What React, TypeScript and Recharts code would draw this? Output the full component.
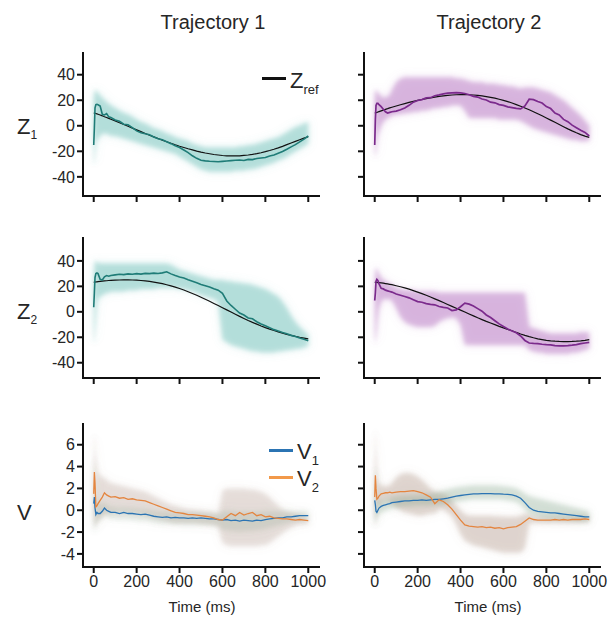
import React from "react";
import { ComposedChart, Line, Area, XAxis, YAxis } from "recharts";

// shared time base (ms); denser at the start where the traces jump
const time = [
  0, 3, 6, 10, 15, 20, 30, 40, 50, 60, 70, 80,
  100, 120, 140, 160, 180, 200, 220, 240, 260, 280,
  300, 320, 340, 360, 380, 400, 420, 440, 460, 480,
  500, 520, 540, 560, 580, 600, 620, 640, 660, 680,
  700, 720, 740, 760, 780, 800, 820, 840, 860, 880,
  900, 920, 940, 960, 980, 1000,
];
const timeTicks = [0, 200, 400, 600, 800, 1000];
const zTicks = [-40, -20, 0, 20, 40];
const vTicks = [-4, -2, 0, 2, 4, 6];

// ---- Trajectory 1, Z1
const refT1Z1 = [
  10, 9.9, 9.8, 9.6, 9.3, 9.0, 8.4, 7.8, 7.1, 6.5, 5.8, 5.1,
  3.8, 2.4, 1.0, -0.4, -1.8, -3.2, -4.6, -6.0, -7.4, -8.7,
  -10.0, -11.3, -12.5, -13.7, -14.9, -16.0, -17.0, -18.0, -18.9, -19.8,
  -20.6, -21.3, -21.9, -22.5, -22.9, -23.3, -23.5, -23.6, -23.6, -23.5,
  -23.2, -22.9, -22.4, -21.8, -21.1, -20.3, -19.4, -18.4, -17.3, -16.1,
  -14.8, -13.5, -12.2, -10.9, -9.7, -8.6,
];
const meanT1Z1 = [
  -15, -2, 14, 16.5, 16.8, 16.5, 15.5, 9, 8.5, 9.5, 7, 6.5,
  4.6, 3.5, 1.2, 0.8, -1.5, -4.0, -5.5, -6.3, -7.0, -8.8,
  -10.2, -11.0, -12.5, -14.0, -15.6, -17.0, -19.0, -21.0, -23.5, -25.5,
  -27.0, -27.5, -27.8, -28.0, -28.2, -27.9, -27.6, -27.3, -27.0, -26.8,
  -27.2, -26.3, -26.5, -25.6, -25.2, -24.8, -23.6, -22.9, -21.5, -20.2,
  -18.4, -16.5, -14.8, -12.6, -10.4, -8.0,
];
const hiT1Z1 = [
  22, 26, 28, 28, 27, 26, 24, 22, 20, 19, 17, 16,
  14, 12, 10, 9, 7, 5, 3, 2, 0, -2,
  -3, -4, -6, -7, -9, -10, -11, -12, -14, -15,
  -16, -17, -17, -17, -17, -17, -17, -17, -17, -16,
  -16, -15, -15, -14, -13, -12, -11, -10, -9, -7,
  -5, -3, -1, 0, 2, 3,
];
const loT1Z1 = [
  -28, -30, -24, -15, -12, -10, -8, -6, -6, -6, -7, -8,
  -8, -9, -10, -11, -12, -13, -14, -15, -16, -17,
  -18, -19, -20, -21, -22, -24, -26, -28, -30, -32,
  -34, -35, -36, -36, -36, -36, -36, -36, -35, -35,
  -35, -34, -34, -33, -32, -31, -30, -29, -27, -26,
  -24, -22, -20, -18, -16, -14,
];

// ---- Trajectory 2, Z1
const refT2Z1 = [
  10, 10.1, 10.3, 10.5, 10.8, 11.1, 11.7, 12.3, 12.9, 13.4, 14.0, 14.5,
  15.5, 16.5, 17.4, 18.3, 19.1, 19.9, 20.6, 21.3, 21.9, 22.5,
  23.0, 23.4, 23.8, 24.1, 24.3, 24.4, 24.4, 24.3, 24.1, 23.8,
  23.4, 22.9, 22.3, 21.6, 20.8, 19.9, 18.9, 17.8, 16.6, 15.3,
  13.9, 12.5, 11.0, 9.4, 7.8, 6.1, 4.4, 2.7, 1.0, -0.7,
  -2.4, -4.0, -5.5, -6.9, -8.1, -9.1,
];
const meanT2Z1 = [
  -15, 5, 16, 17.5, 17.5, 16.5, 15, 13, 11, 10, 10.5, 11,
  11.5, 12.5, 14, 16, 18.5, 19.8, 20.5, 21.8, 22.0, 23.5,
  24.2, 25.0, 25.5, 25.8, 26.0, 25.7, 25.3, 24.3, 23.0, 22.5,
  21.0, 20.2, 18.5, 18.0, 16.6, 16.0, 14.8, 14.2, 13.6, 13.2,
  15.5, 20.8, 20.5, 19.0, 17.8, 15.0, 13.5, 10.0, 8.5, 5.0,
  3.2, 0.5, -1.5, -3.5, -5.2, -8.0,
];
const hiT2Z1 = [
  24, 28, 28, 27, 26, 25, 23, 22, 22, 23, 24, 28,
  34, 37, 38, 38, 38, 38, 38, 38, 38, 38,
  38, 38, 38, 38, 37, 37, 36, 35, 34, 34,
  34, 33, 33, 33, 32, 32, 31, 31, 30, 29,
  30, 30, 30, 29, 28, 27, 26, 24, 22, 20,
  17, 14, 11, 8, 4, 0,
];
const loT2Z1 = [
  -20, -25, -22, -15, -8, -5, 0, 3, 5, 6, 7, 8,
  9, 9, 10, 10, 11, 11, 12, 12, 13, 14,
  14, 15, 15, 16, 16, 16, 12, 6, 6, 6,
  6, 6, 6, 6, 5, 5, 5, 5, 5, 4,
  2, 0, -2, -3, -4, -5, -6, -7, -8, -9,
  -10, -11, -11, -12, -12, -12,
];

// ---- Trajectory 1, Z2
const refT1Z2 = [
  23.2, 23.3, 23.4, 23.5, 23.6, 23.7, 23.9, 24.1, 24.3, 24.4, 24.6, 24.7,
  24.9, 25.0, 25.1, 25.1, 25.0, 24.9, 24.6, 24.3, 23.9, 23.4,
  22.8, 22.1, 21.3, 20.4, 19.4, 18.3, 17.1, 15.8, 14.4, 13.0,
  11.5, 9.9, 8.3, 6.6, 4.9, 3.2, 1.5, -0.2, -1.9, -3.6,
  -5.2, -6.8, -8.3, -9.7, -11.1, -12.4, -13.6, -14.7, -15.8, -16.8,
  -17.7, -18.5, -19.3, -20.0, -20.6, -21.2,
];
const meanT1Z2 = [
  3.6, 15, 27, 30, 30.5, 30, 25.5, 25, 27.5, 28.5, 28, 28.5,
  29, 29.5, 29.2, 29.8, 29.5, 30.0, 29.6, 30.2, 30.0, 30.4,
  30.1, 30.6, 31.5, 29.8, 28.5, 27.3, 26.5, 25.2, 24.0, 22.8,
  21.5, 20.5, 19.5, 18.2, 17.0, 14.5, 8.5, 5.0, 2.0, -1.0,
  -2.5, -4.8, -5.5, -7.8, -9.5, -11.0, -12.5, -14.0, -15.0, -16.2,
  -17.2, -18.5, -19.4, -20.5, -21.5, -22.7,
];
const hiT1Z2 = [
  22, 36, 40, 40, 39, 39, 38, 38, 38, 38, 38, 38,
  38, 38, 38, 38, 38, 38, 38, 38, 38, 38,
  38, 38, 38, 37, 35, 33, 32, 31, 30, 29,
  28, 27, 26, 25, 25, 25, 24, 24, 23, 23,
  22, 22, 21, 20, 19, 18, 16, 14, 12, 8,
  3, -3, -8, -12, -15, -18,
];
const loT1Z2 = [
  -20, -25, -18, -8, 5, 10, 12, 13, 14, 15, 15, 16,
  16, 16, 16, 17, 17, 17, 18, 18, 18, 18,
  19, 19, 19, 19, 19, 18, 18, 17, 16, 15,
  13, 12, 11, 10, 8, -22, -24, -26, -27, -28,
  -29, -30, -31, -31, -32, -32, -32, -32, -31, -31,
  -30, -30, -29, -29, -28, -27,
];

// ---- Trajectory 2, Z2
const refT2Z2 = [
  23.2, 23.2, 23.1, 23.1, 23.0, 22.9, 22.7, 22.5, 22.2, 21.9, 21.6, 21.3,
  20.5, 19.7, 18.8, 17.8, 16.7, 15.5, 14.3, 13.0, 11.6, 10.2,
  8.8, 7.3, 5.8, 4.3, 2.8, 1.3, -0.2, -1.7, -3.2, -4.7,
  -6.1, -7.5, -8.8, -10.1, -11.4, -12.6, -13.8, -14.9, -16.2, -17.4,
  -18.5, -19.5, -20.4, -21.2, -21.8, -22.4, -22.8, -23.1, -23.3, -23.4,
  -23.4, -23.3, -23.1, -22.8, -22.4, -21.9,
];
const meanT2Z2 = [
  8.9, 15, 24, 25.5, 24.5, 22, 18.5, 18, 17, 16.5, 16, 15.5,
  14, 13, 12, 11, 9.5, 8.0, 7.5, 6.4, 5.8, 5.5,
  4.2, 3.5, 3.0, 1.0, 1.5, 4.0, 6.8, 6.0, 4.5, 2.5,
  0.5, -2.5, -4.5, -7.0, -9.5, -11.5, -13.5, -15.0, -16.5, -19.0,
  -22.5, -24.5, -24.8, -25.0, -25.5, -25.8, -26.0, -26.5, -26.8, -26.7,
  -26.5, -26.2, -25.8, -25.0, -24.5, -24.0,
];
const hiT2Z2 = [
  20, 32, 35, 34, 32, 30, 27, 25, 24, 23, 22, 21,
  19, 18, 17, 17, 17, 16, 16, 16, 16, 16,
  15, 15, 15, 15, 15, 15, 15, 15, 15, 15,
  15, 15, 15, 15, 15, 15, 15, 15, 15, 15,
  15, -12, -13, -14, -15, -16, -17, -17, -17, -17,
  -17, -17, -17, -16, -16, -16,
];
const loT2Z2 = [
  -18, -25, -22, -15, -5, 2, 8, 10, 10, 10, 10, 9,
  3, -4, -8, -10, -11, -12, -12, -12, -12, -11,
  -8, -6, -5, -4, -5, -10, -26, -26, -26, -26,
  -26, -26, -26, -26, -26, -26, -26, -26, -26, -26,
  -26, -30, -31, -32, -32, -33, -33, -33, -33, -33,
  -33, -32, -32, -31, -30, -29,
];

// ---- Trajectory 1, V
const v1T1 = [
  0.6, 1.2, 0.2, -0.4, -0.2, -0.3, -0.3, -0.1, 0.2, 0.0, -0.1, -0.2,
  -0.2, -0.3, -0.2, -0.3, -0.3, -0.35, -0.4, -0.35, -0.45, -0.55,
  -0.6, -0.65, -0.6, -0.7, -0.65, -0.7, -0.7, -0.75, -0.7, -0.75,
  -0.7, -0.75, -0.8, -0.8, -0.85, -0.9, -0.85, -0.95, -0.9, -1.0,
  -0.9, -0.95, -1.0, -0.9, -0.95, -0.85, -0.8, -0.75, -0.7, -0.7,
  -0.6, -0.6, -0.55, -0.5, -0.5, -0.5,
];
const v2T1 = [
  1.5, 3.5, 2.5, 0.3, 0.4, 0.6, 0.9, 1.2, 1.6, 1.4, 1.3, 1.2,
  1.25, 1.1, 1.15, 1.0, 1.05, 0.95, 0.9, 0.85, 0.7, 0.55,
  0.4, 0.25, 0.1, -0.05, -0.2, -0.25, -0.3, -0.4, -0.4, -0.45,
  -0.5, -0.55, -0.6, -0.7, -0.85, -0.9, -0.6, -0.3, -0.5, -0.2,
  -0.45, -0.3, -0.2, -0.5, -0.4, -0.6, -0.55, -0.7, -0.75, -0.8,
  -0.8, -0.85, -0.9, -0.85, -0.9, -0.95,
];
const v1HiT1 = [
  3, 5, 3, 1.5, 1, 0.8, 0.6, 0.6, 0.7, 0.5, 0.4, 0.3,
  0.3, 0.2, 0.3, 0.2, 0.2, 0.15, 0.1, 0.1, 0.05, -0.05,
  -0.1, -0.15, -0.1, -0.2, -0.15, -0.2, -0.2, -0.25, -0.2, -0.25,
  -0.2, -0.25, -0.3, -0.3, -0.35, -0.1, 0.0, -0.1, -0.1, -0.2,
  -0.1, -0.15, -0.2, -0.1, -0.15, -0.1, -0.1, -0.1, -0.1, -0.1,
  -0.1, -0.1, -0.1, -0.05, -0.05, -0.05,
];
const v1LoT1 = [
  -1.5, -2, -2, -1.5, -1.2, -1, -0.9, -0.7, -0.4, -0.6, -0.7, -0.8,
  -0.8, -0.9, -0.8, -0.9, -0.9, -0.95, -1.0, -0.95, -1.05, -1.15,
  -1.2, -1.25, -1.2, -1.3, -1.25, -1.3, -1.3, -1.35, -1.3, -1.35,
  -1.3, -1.35, -1.4, -1.4, -1.45, -1.8, -1.8, -1.9, -1.9, -2.0,
  -1.9, -1.9, -1.9, -1.8, -1.8, -1.7, -1.6, -1.5, -1.4, -1.3,
  -1.2, -1.1, -1.0, -1.0, -0.95, -0.95,
];
const v2HiT1 = [
  4, 7, 6.5, 5, 4, 3.5, 3.2, 3, 3, 2.8, 2.6, 2.5,
  2.4, 2.3, 2.2, 2.1, 2.0, 1.9, 1.8, 1.7, 1.5, 1.3,
  1.1, 0.9, 0.7, 0.5, 0.4, 0.3, 0.2, 0.1, 0.1, 0.0,
  0.0, -0.1, -0.1, -0.2, -0.3, 1.8, 2.0, 2.0, 2.0, 2.0,
  2.0, 1.9, 1.9, 1.8, 1.7, 1.5, 1.2, 0.8, 0.4, 0.1,
  -0.1, -0.2, -0.3, -0.4, -0.5, -0.5,
];
const v2LoT1 = [
  -1, -1.5, -1.5, -1.5, -1.2, -1, -0.8, -0.6, -0.4, -0.3, -0.3, -0.3,
  -0.2, -0.2, -0.2, -0.2, -0.3, -0.3, -0.4, -0.5, -0.6, -0.7,
  -0.8, -0.9, -1.0, -1.1, -1.2, -1.2, -1.2, -1.2, -1.2, -1.2,
  -1.3, -1.3, -1.3, -1.4, -1.5, -3.0, -3.2, -3.3, -3.3, -3.3,
  -3.3, -3.3, -3.3, -3.3, -3.2, -3.2, -3.0, -2.7, -2.4, -2.1,
  -1.8, -1.6, -1.4, -1.3, -1.3, -1.3,
];

// ---- Trajectory 2, V
const v1T2 = [
  0.9, 0.5, -0.1, -0.2, 0.0, 0.2, 0.35, 0.45, 0.5, 0.55, 0.6, 0.7,
  0.75, 0.8, 0.85, 0.85, 0.9, 0.9, 0.95, 0.9, 0.95, 1.0,
  1.0, 1.05, 1.1, 1.2, 1.3, 1.35, 1.4, 1.45, 1.5, 1.5,
  1.52, 1.53, 1.52, 1.5, 1.5, 1.47, 1.45, 1.4, 1.3, 1.1,
  0.7, 0.25, 0.0, -0.1, -0.15, -0.2, -0.25, -0.25, -0.3, -0.35,
  -0.4, -0.45, -0.5, -0.55, -0.6, -0.6,
];
const v2T2 = [
  1.2, 3.2, 2.0, 1.0, 1.1, 1.3, 1.5, 1.55, 1.6, 1.6, 1.65, 1.6,
  1.65, 1.7, 1.7, 1.75, 1.8, 1.7, 1.6, 1.4, 1.2, 0.6,
  0.95, 0.8, 0.5, 0.1, -0.4, -0.9, -1.35, -1.45, -1.5, -1.55,
  -1.5, -1.6, -1.55, -1.65, -1.6, -1.7, -1.6, -1.55, -1.5, -1.3,
  -1.0, -0.7, -0.85, -0.9, -0.9, -0.9, -0.9, -0.85, -0.9, -0.85,
  -0.9, -0.85, -0.85, -0.85, -0.8, -0.85,
];
const v1HiT2 = [
  3, 4, 2, 1, 0.8, 0.9, 0.9, 0.95, 1.0, 1.05, 1.1, 1.2,
  1.25, 1.3, 1.35, 1.35, 1.4, 1.4, 1.45, 1.4, 1.5, 1.6,
  1.7, 1.8, 1.9, 2.0, 2.1, 2.15, 2.2, 2.25, 2.3, 2.3,
  2.3, 2.3, 2.3, 2.3, 2.25, 2.2, 2.15, 2.1, 2.0, 1.8,
  1.5, 1.3, 1.2, 1.1, 1.0, 0.9, 0.8, 0.7, 0.6, 0.5,
  0.4, 0.3, 0.2, 0.1, 0.0, -0.1,
];
const v1LoT2 = [
  -1, -1.5, -1, -0.8, -0.6, -0.4, -0.2, -0.1, 0.0, 0.05, 0.1, 0.2,
  0.25, 0.3, 0.35, 0.35, 0.4, 0.4, 0.45, 0.4, 0.45, 0.5,
  0.5, 0.55, 0.6, 0.7, 0.8, 0.85, 0.9, 0.95, 1.0, 1.0,
  1.0, 1.0, 1.0, 1.0, 1.0, 0.95, 0.9, 0.85, 0.75, 0.5,
  0.1, -0.3, -0.5, -0.6, -0.7, -0.75, -0.8, -0.8, -0.85, -0.9,
  -0.9, -0.95, -1.0, -1.0, -1.0, -1.0,
];
const v2HiT2 = [
  4, 7.5, 6, 4, 3, 2.5, 2.3, 2.2, 2.2, 2.2, 2.3, 2.5,
  3, 3.3, 3.4, 3.4, 3.3, 3.1, 2.8, 2.4, 2.0, 1.7,
  1.6, 1.5, 1.3, 0.9, 0.4, 0.0, -0.4, -0.5, -0.5, -0.5,
  -0.5, -0.5, -0.5, -0.55, -0.55, -0.6, -0.6, -0.6, -0.6, -0.5,
  -0.3, -0.4, -0.55, -0.6, -0.6, -0.6, -0.6, -0.55, -0.6, -0.55,
  -0.6, -0.55, -0.55, -0.55, -0.5, -0.55,
];
const v2LoT2 = [
  -1, -1.5, -1, 0, 0.3, 0.5, 0.6, 0.8, 0.9, 0.9, 0.8, 0.6,
  0.2, 0.0, -0.2, -0.3, -0.4, -0.5, -0.5, -0.4, -0.3, -0.3,
  0.1, 0.1, -0.2, -0.6, -1.3, -2.2, -2.8, -3.0, -3.2, -3.3,
  -3.4, -3.5, -3.6, -3.7, -3.8, -3.9, -3.9, -3.9, -3.9, -3.9,
  -3.5, -1.2, -1.15, -1.2, -1.2, -1.2, -1.2, -1.15, -1.2, -1.15,
  -1.2, -1.15, -1.15, -1.15, -1.1, -1.15,
];

const TEAL = "#1f7c77";
const TEAL_BAND = "#6fc1b9";
const PURPLE = "#7b2a8c";
const PURPLE_BAND = "#bb7fc5";
const BLUE = "#2b74b3";
const ORANGE = "#e4853f";
const FONT = "'Liberation Sans', Arial, sans-serif";
const INK = "#262626";

type Trace = { values: number[]; stroke: string; width: number };
type Band = { lo: number[]; hi: number[]; fill: string; opacity: number };

function buildRows(traces: Trace[], bands: Band[]) {
  return time.map((t, i) => {
    const row: Record<string, any> = { t };
    traces.forEach((tr, k) => (row["l" + k] = tr.values[i]));
    bands.forEach((b, k) => (row["b" + k] = [b.lo[i], b.hi[i]]));
    return row;
  });
}

const PLOT_W = 236;
const Y_AXIS_W = 50;
const X_AXIS_H = 32;
const RIGHT_PAD = 22;

function Panel(props: {
  left: number;
  top: number;
  height: number;
  domain: [number, number];
  ticks: number[];
  yLabels: boolean;
  xLabels: boolean;
  traces: Trace[];
  bands: Band[];
}) {
  const { left, top, height, domain, ticks, yLabels, xLabels, traces, bands } = props;
  const data = buildRows(traces, bands);
  const axisStroke = { stroke: "#111", strokeWidth: 2, strokeLinecap: "square" as const };
  const tickStyle = { fontSize: 16, fill: INK, fontFamily: FONT };
  return (
    <div style={{ position: "absolute", left: left - Y_AXIS_W, top: top - 4 }}>
      <ComposedChart
        width={Y_AXIS_W + PLOT_W + RIGHT_PAD}
        height={4 + height + X_AXIS_H}
        data={data}
        margin={{ top: 4, right: RIGHT_PAD, bottom: 0, left: 0 }}
      >
        <XAxis
          type="number"
          dataKey="t"
          domain={[-50, 1050]}
          ticks={timeTicks}
          interval={0}
          height={X_AXIS_H}
          tickSize={6}
          tickMargin={3}
          axisLine={axisStroke}
          tickLine={{ stroke: "#111", strokeWidth: 2 }}
          tick={tickStyle}
          tickFormatter={(v: number) => (xLabels ? String(v) : "")}
        />
        <YAxis
          type="number"
          domain={domain}
          ticks={ticks}
          interval={0}
          width={Y_AXIS_W}
          allowDataOverflow
          tickSize={6}
          tickMargin={2}
          axisLine={axisStroke}
          tickLine={{ stroke: "#111", strokeWidth: 2 }}
          tick={tickStyle}
          tickFormatter={(v: number) => (yLabels ? String(v) : "")}
        />
        {bands.map((b, k) => (
          <Area
            key={"bw" + k}
            dataKey={"b" + k}
            type="linear"
            stroke="none"
            fill={b.fill}
            fillOpacity={b.opacity * 0.55}
            filter="url(#blurWide)"
            isAnimationActive={false}
          />
        ))}
        {bands.map((b, k) => (
          <Area
            key={"bs" + k}
            dataKey={"b" + k}
            type="linear"
            stroke="none"
            fill={b.fill}
            fillOpacity={b.opacity}
            filter="url(#blurSoft)"
            isAnimationActive={false}
          />
        ))}
        {traces.map((tr, k) => (
          <Line
            key={"l" + k}
            dataKey={"l" + k}
            type="linear"
            stroke={tr.stroke}
            strokeWidth={tr.width}
            dot={false}
            isAnimationActive={false}
          />
        ))}
      </ComposedChart>
    </div>
  );
}

function Label(props: { text: string; sub?: string; left: number; top: number; size: number; subSize: number }) {
  return (
    <div
      style={{
        position: "absolute",
        left: props.left,
        top: props.top,
        fontSize: props.size,
        lineHeight: 1,
        color: INK,
        whiteSpace: "nowrap",
      }}
    >
      {props.text}
      {props.sub && (
        <span style={{ fontSize: props.subSize, position: "relative", top: "0.45em" }}>{props.sub}</span>
      )}
    </div>
  );
}

function Centered(props: { text: string; cx: number; top: number; size: number }) {
  return (
    <div
      style={{
        position: "absolute",
        left: props.cx - 100,
        width: 200,
        top: props.top,
        textAlign: "center",
        fontSize: props.size,
        lineHeight: 1,
        color: INK,
      }}
    >
      {props.text}
    </div>
  );
}

function Swatch(props: { left: number; top: number; color: string }) {
  return (
    <div
      style={{
        position: "absolute",
        left: props.left,
        top: props.top,
        width: 24,
        height: 3,
        background: props.color,
      }}
    />
  );
}

export default function App() {
  const refLine = "#111";
  return (
    <div
      style={{
        position: "absolute",
        left: 0,
        top: 0,
        width: 610,
        height: 619,
        background: "#fff",
        fontFamily: FONT,
        overflow: "hidden",
      }}
    >
      <svg width={0} height={0} style={{ position: "absolute" }}>
        <defs>
          <filter id="blurWide" x="-20%" y="-40%" width="140%" height="180%">
            <feGaussianBlur stdDeviation={5} />
          </filter>
          <filter id="blurSoft" x="-20%" y="-40%" width="140%" height="180%">
            <feGaussianBlur stdDeviation={2.2} />
          </filter>
        </defs>
      </svg>

      <Centered text="Trajectory 1" cx={213} top={12} size={20} />
      <Centered text="Trajectory 2" cx={489} top={12} size={20} />

      <Panel
        left={83}
        top={53}
        height={143}
        domain={[-55, 57]}
        ticks={zTicks}
        yLabels
        xLabels={false}
        bands={[{ lo: loT1Z1, hi: hiT1Z1, fill: TEAL_BAND, opacity: 0.4 }]}
        traces={[
          { values: refT1Z1, stroke: refLine, width: 1.2 },
          { values: meanT1Z1, stroke: TEAL, width: 1.6 },
        ]}
      />
      <Panel
        left={364}
        top={53}
        height={143}
        domain={[-55, 57]}
        ticks={zTicks}
        yLabels={false}
        xLabels={false}
        bands={[{ lo: loT2Z1, hi: hiT2Z1, fill: PURPLE_BAND, opacity: 0.45 }]}
        traces={[
          { values: refT2Z1, stroke: refLine, width: 1.2 },
          { values: meanT2Z1, stroke: PURPLE, width: 1.7 },
        ]}
      />
      <Panel
        left={83}
        top={238}
        height={140}
        domain={[-52, 58]}
        ticks={zTicks}
        yLabels
        xLabels={false}
        bands={[{ lo: loT1Z2, hi: hiT1Z2, fill: TEAL_BAND, opacity: 0.4 }]}
        traces={[
          { values: refT1Z2, stroke: refLine, width: 1.2 },
          { values: meanT1Z2, stroke: TEAL, width: 1.6 },
        ]}
      />
      <Panel
        left={364}
        top={238}
        height={140}
        domain={[-52, 58]}
        ticks={zTicks}
        yLabels={false}
        xLabels={false}
        bands={[{ lo: loT2Z2, hi: hiT2Z2, fill: PURPLE_BAND, opacity: 0.45 }]}
        traces={[
          { values: refT2Z2, stroke: refLine, width: 1.2 },
          { values: meanT2Z2, stroke: PURPLE, width: 1.7 },
        ]}
      />
      <Panel
        left={83}
        top={424}
        height={143}
        domain={[-5.2, 7.9]}
        ticks={vTicks}
        yLabels
        xLabels
        bands={[
          { lo: v2LoT1, hi: v2HiT1, fill: "#a68676", opacity: 0.2 },
          { lo: v1LoT1, hi: v1HiT1, fill: "#8aa88e", opacity: 0.18 },
        ]}
        traces={[
          { values: v1T1, stroke: BLUE, width: 1.3 },
          { values: v2T1, stroke: ORANGE, width: 1.3 },
        ]}
      />
      <Panel
        left={364}
        top={424}
        height={143}
        domain={[-5.2, 7.9]}
        ticks={vTicks}
        yLabels={false}
        xLabels
        bands={[
          { lo: v2LoT2, hi: v2HiT2, fill: "#a68676", opacity: 0.26 },
          { lo: v1LoT2, hi: v1HiT2, fill: "#8aa88e", opacity: 0.28 },
        ]}
        traces={[
          { values: v1T2, stroke: BLUE, width: 1.3 },
          { values: v2T2, stroke: ORANGE, width: 1.3 },
        ]}
      />

      <Label text="Z" sub="1" left={17} top={116} size={22} subSize={12} />
      <Label text="Z" sub="2" left={17} top={301} size={22} subSize={12} />
      <Label text="V" left={17} top={502} size={22} subSize={12} />

      <Swatch left={262} top={77} color="#111" />
      <Label text="Z" sub="ref" left={290} top={70} size={22} subSize={13} />
      <Swatch left={269} top={449} color={BLUE} />
      <Label text="V" sub="1" left={297} top={441} size={22} subSize={13} />
      <Swatch left={269} top={476} color="#f2994a" />
      <Label text="V" sub="2" left={297} top={468} size={22} subSize={13} />

      <Centered text="Time (ms)" cx={202} top={599} size={15} />
      <Centered text="Time (ms)" cx={488} top={599} size={15} />
    </div>
  );
}
